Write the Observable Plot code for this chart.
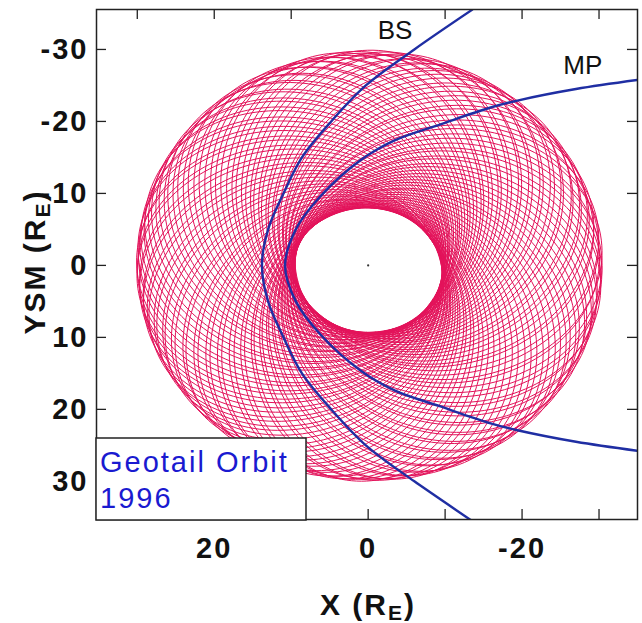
<!DOCTYPE html>
<html><head><meta charset="utf-8">
<script src="https://cdn.jsdelivr.net/npm/d3@7"></script>
<script src="https://cdn.jsdelivr.net/npm/@observablehq/plot@0.6"></script>
<style>
html,body{margin:0;padding:0;background:#fff;overflow:hidden}
#wrap{width:642px;height:623px}
svg{display:block}
g[aria-label="x-axis tick label"] text, g[aria-label="y-axis tick label"] text{letter-spacing:2px}
</style></head><body><div id="wrap"></div>
<script>
// ---- Geotail orbit loops (1996): apsidal direction (deg, from +X toward +Y), perigee & apogee (R_E)
const loopAngle = [0,3.7,6.6,10.5,13.4,17.3,20.3,24.4,27.1,31.2,
  34.0,38.0,40.8,44.9,47.7,51.7,54.6,58.6,61.4,65.4,
  68.3,72.3,75.1,79.2,82.0,86.0,88.8,92.9,95.7,99.7,
  102.6,106.6,109.4,113.4,116.3,120.3,123.1,127.2,130.0,134.0,
  136.8,140.9,143.7,147.7,150.6,154.6,157.4,161.4,164.3,168.3,
  171.1,175.2,178.0,182.0,184.8,188.9,191.7,195.7,198.6,202.6,
  205.4,209.4,212.3,216.3,219.1,223.2,226.0,230.0,232.8,236.9,
  239.7,243.7,246.6,250.6,253.4,257.4,260.3,264.3,267.1,271.2,
  274.0,278.0,280.8,284.9,287.7,291.7,294.6,298.6,301.4,305.4,
  308.3,312.3,315.1,319.2,322.0,326.0,328.8,332.9,335.7,339.7,
  342.6,346.6,349.4,353.4,356.3];
const loopPerigee = [9.5,9.6,9.5,9.6,9.4,9.5,9.5,9.6,9.4,9.5,
  9.4,9.5,9.4,9.4,9.3,9.4,9.3,9.4,9.3,9.4,
  9.3,9.4,9.3,9.4,9.3,9.4,9.3,9.4,9.3,9.4,
  9.4,9.5,9.4,9.5,9.5,9.6,9.5,9.6,9.6,9.7,
  9.6,9.7,9.6,9.7,9.7,9.8,9.7,9.8,9.7,9.8,
  9.7,9.8,9.7,9.7,9.6,9.6,9.5,9.5,9.4,9.3,
  9.2,9.2,9.0,9.0,8.9,8.8,8.7,8.6,8.5,8.4,
  8.4,8.3,8.2,8.2,8.1,8.1,8.0,8.0,8.0,8.0,
  8.1,8.1,8.2,8.3,8.4,8.5,8.6,8.7,8.8,8.9,
  9.0,9.1,9.1,9.2,9.3,9.3,9.4,9.4,9.5,9.5,
  9.5,9.6,9.5,9.6,9.5];
const loopApogee = [30.4,30.1,30.5,30.2,30.4,30.0,30.3,30.1,30.2,29.9,
  30.1,29.8,30.1,29.7,30.0,29.8,29.9,29.6,29.9,29.5,
  29.8,29.4,29.9,29.5,29.8,29.3,29.9,29.5,29.8,29.4,
  29.9,29.5,29.8,29.6,29.9,29.6,30.0,29.7,30.0,29.8,
  30.1,29.8,30.1,29.9,30.1,30.0,30.2,29.9,30.1,30.0,
  30.1,29.9,30.1,30.0,30.1,29.9,30.0,29.8,30.0,29.9,
  30.0,29.8,29.9,29.7,29.9,29.8,29.9,29.6,29.9,29.7,
  29.8,29.6,29.9,29.7,30.0,29.7,29.9,29.8,30.0,29.7,
  29.9,29.8,30.0,29.8,30.0,29.9,30.1,29.8,30.1,29.9,
  30.2,30.0,30.3,30.0,30.3,30.1,30.4,30.1,30.4,30.2,
  30.4,30.2,30.5,30.3,30.4];

// ---- Bow shock (BS) and magnetopause (MP) model curves
const bsX = [-13.5,-6.0,0.3,4.8,8.6,11.0,13.0,13.8,13.0,11.0,8.6,4.8,0.3,-6.0,-13.5];
const bsY = [-35.5,-30,-25,-20,-15,-10,-5,0,5,10,15,20,25,30,35.5];
const mpX = [-36,-27.0,-19.4,-15.8,-9.4,-3.5,1.0,6.2,9.4,10.8,9.4,6.2,1.0,-3.5,-9.4,-15.8,-19.4,-27.0,-36];
const mpY = [-25.9,-24.5,-22.9,-21.9,-19.6,-17.4,-14.6,-9.6,-5,0,5,9.6,14.6,17.4,19.6,21.9,22.9,24.5,25.9];

// ---- labels & ticks
const curveNames = ["BS","MP"];
const curveLabelX = [-3.5,-27.9];
const curveLabelY = [-32.6,-27.8];
const xTickLabels = [20,0,-20];
const xTickMarksTop = [30,20,10,-10,-20,-30];
const xTickMarksBottom = [30,20,10,0,-10,-20,-30];
const yTickLabels = [-30,-20,-10,0,10,20,30];
const yTickMarksLeft = [-30,-20,-10,0,10,20,30];
const yTickMarksRight = [-30,-20,-10,0,10,20];
const legendLines = ["Geotail Orbit","1996"];
const earth = [{x:0,y:0}];

// orbit ellipses from the loop elements (Earth at focus)
const orbit = [];
loopAngle.forEach((deg,i)=>{
  const rp=loopPerigee[i], ra=loopApogee[i];
  const a=(rp+ra)/2, e=(ra-rp)/(ra+rp), b=a*Math.sqrt(1-e*e);
  const th=deg*Math.PI/180, c=Math.cos(th), s=Math.sin(th);
  const N=150;
  for(let k=0;k<=N;k++){
    const E=2*Math.PI*k/N;
    const u=a*(Math.cos(E)-e), v=b*Math.sin(E);
    orbit.push({loop:i, x:u*c - v*s, y:u*s + v*c});
  }
});
const bs = bsX.map((x,i)=>({x, y:bsY[i]}));
const mp = mpX.map((x,i)=>({x, y:mpY[i]}));
const curveLabels = curveNames.map((t,i)=>({t, x:curveLabelX[i], y:curveLabelY[i]}));

const W=642, H=623, mT=9, mR=5, mB=104, mL=96;
const fw = W-mL-mR, fh = H-mT-mB;
const fontFam = "'Liberation Sans', Arial, Helvetica, sans-serif";

const chart = Plot.plot({
  width:W, height:H,
  marginTop:mT, marginRight:mR, marginBottom:mB, marginLeft:mL,
  x:{domain:[35.3,-35.0]},
  y:{domain:[-35.55,35.3], reverse:true},
  style:{fontFamily:fontFam, fontSize:"29px", background:"#fff", color:"#111"},
  marks:[
    Plot.line(orbit,{x:"x",y:"y",z:"loop",stroke:"#e3125a",strokeWidth:1.0,clip:true}),
    Plot.line(bs,{x:"x",y:"y",stroke:"#1f2ea3",strokeWidth:2.4,curve:"catmull-rom",clip:true}),
    Plot.line(mp,{x:"x",y:"y",stroke:"#1f2ea3",strokeWidth:2.4,curve:"catmull-rom",clip:true}),
    Plot.dot(earth,{x:"x",y:"y",r:1.1,fill:"#333",stroke:null}),
    Plot.text(curveLabels,{x:"x",y:"y",text:"t",fontSize:26,fill:"#111",fontFamily:fontFam}),
    Plot.frame({stroke:"#222",strokeWidth:1.5}),
    Plot.tickX(xTickMarksTop,{x:d=>d,insetBottom:fh-10,stroke:"#222",strokeWidth:1.3}),
    Plot.tickX(xTickMarksBottom,{x:d=>d,insetTop:fh-10,stroke:"#222",strokeWidth:1.3}),
    Plot.tickY(yTickMarksLeft,{y:d=>d,insetRight:fw-10,stroke:"#222",strokeWidth:1.3}),
    Plot.tickY(yTickMarksRight,{y:d=>d,insetLeft:fw-10,stroke:"#222",strokeWidth:1.3}),
    Plot.axisX({ticks:xTickLabels,tickSize:0,tickPadding:18,label:null,fontWeight:"bold",tickFormat:d=>String(d)}),
    Plot.axisY({ticks:yTickLabels,tickSize:0,tickPadding:8,label:null,fontWeight:"bold",tickFormat:d=>String(d)})
  ]
});
document.getElementById("wrap").appendChild(chart);

// axis titles with subscript E and the legend box
const svg = d3.select(chart);
const xt = svg.append("text").attr("x",368).attr("y",615).attr("text-anchor","middle")
  .attr("font-family",fontFam).attr("font-size",30).attr("font-weight","bold").attr("letter-spacing","2px").attr("fill","#111");
xt.append("tspan").text("X (R");
xt.append("tspan").attr("font-size",21).attr("dy",5).text("E");
xt.append("tspan").attr("dy",-5).text(")");
const yt = svg.append("text").attr("transform","translate(45,262) rotate(-90)").attr("text-anchor","middle")
  .attr("font-family",fontFam).attr("font-size",30).attr("font-weight","bold").attr("letter-spacing","2px").attr("fill","#111");
yt.append("tspan").text("YSM (R");
yt.append("tspan").attr("font-size",21).attr("dy",5).text("E");
yt.append("tspan").attr("dy",-5).text(")");

const lg = svg.append("g");
lg.append("rect").attr("x",96).attr("y",438).attr("width",210).attr("height",82)
  .attr("fill","#fff").attr("stroke","#222").attr("stroke-width",1.5);
legendLines.forEach((t,i)=>{
  lg.append("text").attr("x",100).attr("y",472+i*36).attr("text-anchor","start")
    .attr("font-family",fontFam).attr("font-size",29)
    .attr("letter-spacing","2px").attr("fill","#1a1ad0").text(t);
});
</script>
</body></html>
